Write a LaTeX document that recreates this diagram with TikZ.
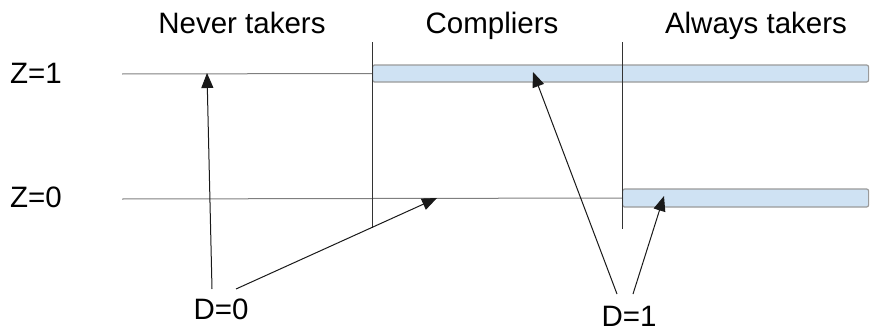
\documentclass[tikz,border=0pt]{standalone}
\usepackage{fontspec}
\setmainfont{Liberation Sans}
\usetikzlibrary{arrows.meta}
\definecolor{barfill}{HTML}{CFE2F3}
\definecolor{barline}{HTML}{9A9A9A}
\definecolor{hline}{HTML}{7F7F7F}
\tikzset{
  lbl/.style={font=\fontsize{29.5}{34}\selectfont, inner sep=0pt, anchor=base},
  bar/.style={draw=barline, line width=1.2pt, fill=barfill, rounded corners=2pt, inner sep=0pt, anchor=west},
  hl/.style={draw=hline, line width=1pt},
  vl/.style={draw=black!80, line width=1pt},
  arr/.style={draw=black!90, line width=1pt, -{Triangle[length=15pt,width=12pt]}}
}
\begin{document}
\begin{tikzpicture}[x=1pt,y=-1pt]
\useasboundingbox (0,0) rectangle (870,332);
% headers
\node[lbl] (never) at (242,33) {Never takers};
\node[lbl] (comp) at (492,33) {Compliers};
\node[lbl] (always) at (756,33) {Always takers};
\node[lbl] (z1) at (36,83) {Z=1};
\node[lbl] (z0) at (36,207) {Z=0};
\node[lbl] (d0) at (221,319) {D=0};
\node[lbl] (d1) at (629,326) {D=1};
% bars and lines
\node[bar, minimum width=496pt, minimum height=17pt] (bar1) at (372,73.5) {};
\node[bar, minimum width=246pt, minimum height=18pt] (bar0) at (622,198) {};
\coordinate (z1s) at (122,74);
\coordinate (z0s) at (122,199);
\draw[hl] (z1s) -- (bar1.west);
\draw[hl] (z0s) -- (bar0.west);
% vertical separators
\coordinate (v1t) at (372,42);
\coordinate (v1b) at (372,228);
\coordinate (v2t) at (622,42);
\coordinate (v2b) at (622,229);
\draw[vl] (v1t) -- (v1b);
\draw[vl] (v2t) -- (v2b);
% arrows
\coordinate (a1s) at (212,289);
\coordinate (a1e) at (207,73);
\coordinate (a2s) at (236,289);
\coordinate (a2e) at (437,198);
\coordinate (a3s) at (617,294);
\coordinate (a3e) at (533,72);
\coordinate (a4s) at (633,294);
\coordinate (a4e) at (664,196);
\draw[arr] (a1s) -- (a1e);
\draw[arr] (a2s) -- (a2e);
\draw[arr] (a3s) -- (a3e);
\draw[arr] (a4s) -- (a4e);
\end{tikzpicture}
\end{document}
